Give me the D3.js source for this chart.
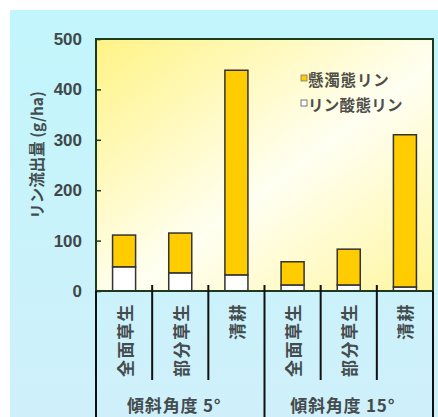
<!DOCTYPE html>
<html><head><meta charset="utf-8">
<script src="https://cdn.jsdelivr.net/npm/d3@7"></script>
<style>html,body{margin:0;padding:0;background:#fff;}svg{display:block;}</style>
</head><body>
<script>
const categories = ["全面草生","部分草生","清耕","全面草生","部分草生","清耕"];
const groups = ["傾斜角度 5°","傾斜角度 15°"];
const phosphate = [48, 36, 32, 12, 12, 8];      // リン酸態リン
const suspended = [63, 79, 406, 46, 71, 302];   // 懸濁態リン
const yTicks = [0, 100, 200, 300, 400, 500];
const seriesNames = ["懸濁態リン", "リン酸態リン"];

const W = 438, H = 417;
const L = 96, R = 433, T = 39, B = 291;
const svg = d3.select("body").append("svg").attr("width", W).attr("height", H);
const defs = svg.append("defs");
const bgG = defs.append("linearGradient").attr("id","bg").attr("x1",0).attr("y1",0).attr("x2",0).attr("y2",1);
bgG.append("stop").attr("offset",0).attr("stop-color","#c2f6fc");
bgG.append("stop").attr("offset",1).attr("stop-color","#cff0fa");
const pg = defs.append("linearGradient").attr("id","pg").attr("x1",0).attr("y1",0).attr("x2",1).attr("y2",1);
pg.append("stop").attr("offset",0).attr("stop-color","#fff385");
pg.append("stop").attr("offset",0.55).attr("stop-color","#fffff2");
pg.append("stop").attr("offset",1).attr("stop-color","#fff6a0");

svg.append("rect").attr("x",10).attr("y",10).attr("width",W-10).attr("height",H-10).attr("fill","url(#bg)");

const x = d3.scaleBand().domain(d3.range(categories.length)).range([L, R]).padding(0);
const y = d3.scaleLinear().domain([0, 500]).range([B, T]);
const bw = x.bandwidth() * 0.41;

svg.append("rect").attr("x",L).attr("y",T).attr("width",R-L).attr("height",B-T).attr("fill","url(#pg)");

// y axis
const ax = svg.append("g").attr("transform",`translate(${L},0)`)
  .call(d3.axisLeft(y).tickValues(yTicks).tickSizeInner(-5).tickSizeOuter(0).tickPadding(14));
ax.select(".domain").remove();
ax.selectAll(".tick line").attr("stroke","#1e3a1e").attr("stroke-width",1.5);
ax.selectAll(".tick text").attr("font-family","Liberation Sans, Arial, sans-serif").attr("font-size",17).attr("fill","#2a2a2a").attr("font-weight","bold").attr("opacity",0.85);

// bars
const g = svg.append("g");
categories.forEach((c,i)=>{
  const cx = x(i) + x.bandwidth()/2;
  g.append("rect").attr("x",cx-bw/2).attr("y",y(phosphate[i])).attr("width",bw).attr("height",y(0)-y(phosphate[i]))
    .attr("fill","#fff").attr("stroke","#333").attr("stroke-width",1.5);
  const top = phosphate[i]+suspended[i];
  g.append("rect").attr("x",cx-bw/2).attr("y",y(top)).attr("width",bw).attr("height",y(phosphate[i])-y(top))
    .attr("fill","#ffcc00").attr("stroke","#333").attr("stroke-width",1.5);
});

// plot border
svg.append("rect").attr("x",L).attr("y",T).attr("width",R-L).attr("height",B-T).attr("fill","none").attr("stroke","#1e3a1e").attr("stroke-width",2);

// separators
for (let i=1;i<categories.length;i++){
  const bx = x(i);
  const full = (i===3);
  svg.append("line").attr("x1",bx).attr("x2",bx).attr("y1",B-6).attr("y2",full?H:380).attr("stroke","#111").attr("stroke-width",2);
}
svg.append("line").attr("x1",L).attr("x2",L).attr("y1",B).attr("y2",H).attr("stroke","#111").attr("stroke-width",2);
svg.append("line").attr("x1",R).attr("x2",R).attr("y1",B).attr("y2",H).attr("stroke","#111").attr("stroke-width",2);

const jp = "'Noto Sans CJK JP', sans-serif";
// category labels
categories.forEach((c,i)=>{
  const cx = x(i) + x.bandwidth()/2;
  svg.append("text").attr("transform",`translate(${cx},303) rotate(-90)`)
    .attr("text-anchor","end").attr("dominant-baseline","central")
    .attr("font-family",jp).attr("font-size",17).attr("letter-spacing",1.5).attr("fill","#222").attr("font-weight","bold").attr("opacity",0.8)
    .text(c);
});
// group labels
groups.forEach((gname,k)=>{
  const x0 = x(k*3), x1 = x(k*3+2)+x.bandwidth();
  svg.append("text").attr("x",(x0+x1)/2-6).attr("y",412).attr("text-anchor","middle")
    .attr("font-family",jp).attr("font-size",17).attr("letter-spacing",0.8).attr("fill","#222").attr("font-weight","bold").attr("opacity",0.8)
    .text(gname);
});

// y title
svg.append("text").attr("transform","translate(36,155) rotate(-90)").attr("text-anchor","middle").attr("dominant-baseline","central")
  .attr("font-family",jp).attr("font-size",15.5).attr("fill","#222").attr("font-weight","bold").attr("opacity",0.8)
  .text("リン流出量 (g/ha)");

// legend
const lg = svg.append("g");
lg.append("rect").attr("x",301).attr("y",75).attr("width",6).attr("height",6).attr("fill","#ffcc00").attr("stroke","#777").attr("stroke-width",0.8);
lg.append("text").attr("x",308).attr("y",78.5).attr("dominant-baseline","central").attr("font-family",jp).attr("font-size",15.5).attr("letter-spacing",0.8).attr("fill","#222").attr("font-weight","bold").attr("opacity",0.8).text(seriesNames[0]);
lg.append("rect").attr("x",301).attr("y",100).attr("width",6).attr("height",6).attr("fill","#fff").attr("stroke","#555").attr("stroke-width",0.8);
lg.append("text").attr("x",308).attr("y",103.5).attr("dominant-baseline","central").attr("font-family",jp).attr("font-size",15.5).attr("letter-spacing",0.3).attr("fill","#222").attr("font-weight","bold").attr("opacity",0.8).text(seriesNames[1]);
</script>
</body></html>
